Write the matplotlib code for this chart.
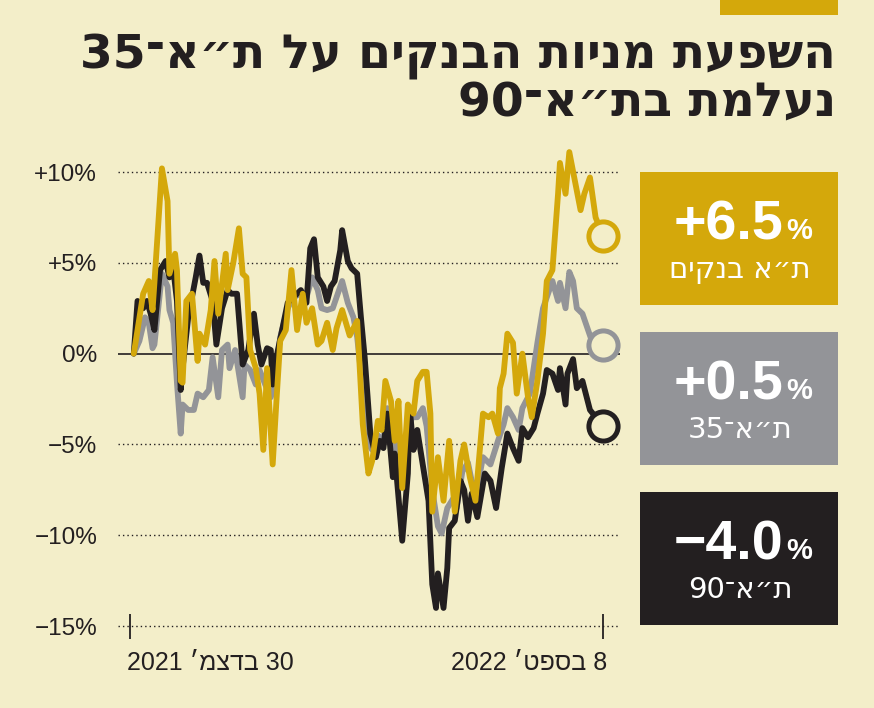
import re
import pandas as pd
import matplotlib
matplotlib.use("Agg")
import matplotlib.pyplot as plt
from matplotlib.patches import Rectangle

# colours
BG = "#f3eec9"
GOLD = "#d4a80b"
GRAY = "#939498"
BLACK = "#231f20"

# data: days since 30 Dec 2021, % change
gold_days = [2, 4, 7, 10, 12, 13, 17, 20, 21, 24, 25, 27, 28, 30, 33, 36, 37, 40, 43, 45,
             47, 51, 52, 55, 58, 60, 62, 64, 67, 69, 71, 73, 76, 78, 80, 83, 86, 89, 92, 94,
             97, 100, 102, 105, 108, 110, 113, 117, 121, 124, 127, 129, 132, 134, 136, 139,
             141, 143, 145, 148, 151, 153, 156, 158, 160, 161, 164, 167, 170, 173, 176, 178,
             181, 184, 188, 191, 193, 196, 197, 199, 201, 204, 206, 209, 212, 214, 217, 220,
             222, 225, 228, 229, 232, 234, 237, 240, 242, 245, 248, 252]
gold_vals = [0, 1.3, 3.3, 4.0, 2.4, 3.9, 10.2, 8.4, 4.4, 5.5, 4.6, -1.5, -1.6, 2.9, 3.3, -0.4,
             1.1, 0.5, 2.4, 5.1, 2.2, 5.5, 3.5, 5.0, 6.9, 4.4, 4.2, 0.2, -0.8, -2.2, -5.3, -0.8,
             -6.1, -2.6, 0.7, 1.3, 4.6, 1.3, 3.3, 1.7, 2.5, 0.5, 0.7, 1.7, 0.2, 1.4, 2.4, 1.0,
             1.8, -3.9, -6.6, -5.9, -3.7, -4.2, -1.5, -2.6, -4.8, -2.6, -7.4, -2.8, -3.3, -1.5,
             -1.0, -1.0, -3.3, -8.7, -5.7, -8.1, -4.8, -8.7, -5.9, -5.0, -6.8, -8.1, -3.3, -3.5,
             -3.3, -4.4, -1.9, -1.1, 1.1, 0.6, -2.2, 0.0, -2.4, -3.5, -1.5, 1.1, 4.0, 4.6, 8.8,
             10.5, 8.8, 11.1, 9.5, 7.9, 8.8, 9.7, 7.5, 6.5]

gray_days = [2, 5, 8, 10, 12, 13, 17, 20, 21, 23, 25, 27, 28, 31, 34, 36, 39, 42, 44, 47,
             49, 52, 53, 56, 60, 61, 64, 67, 69, 72, 75, 77, 80, 84, 87, 91, 94, 97, 100, 102,
             105, 108, 110, 113, 116, 119, 121, 124, 127, 129, 132, 135, 137, 140, 142, 145,
             148, 150, 153, 156, 158, 161, 164, 166, 169, 172, 174, 177, 180, 182, 185, 188,
             192, 196, 199, 201, 204, 207, 209, 213, 217, 220, 222, 225, 228, 229, 232, 234,
             236, 238, 241, 244, 249, 252]
gray_vals = [0, 0.7, 2.0, 1.7, 0.3, 0.5, 4.4, 3.7, 2.4, 1.7, -1.6, -4.4, -2.8, -3.1, -3.1,
             -2.2, -2.4, -2.0, -0.2, -2.4, 0.2, 0.5, -0.8, 0.2, -2.4, -0.6, -0.9, -1.7, -0.9,
             -1.7, -2.4, -1.5, 0.9, 2.5, 3.1, 3.3, 3.1, 4.2, 3.5, 2.5, 2.4, 2.5, 3.1, 4.0, 2.8,
             2.0, 0.9, -2.0, -5.0, -5.3, -4.5, -4.8, -3.0, -5.5, -4.5, -7.0, -5.0, -3.5, -3.5,
             -3.0, -4.0, -7.5, -9.5, -9.9, -8.5, -8.0, -8.5, -6.5, -6.0, -7.0, -7.4, -5.7, -6.1,
             -4.8, -3.9, -3.0, -3.5, -4.2, -3.0, -2.2, 0.6, 2.5, 3.1, 4.0, 2.9, 3.9, 2.5, 4.5,
             4.0, 2.5, 2.2, 1.3, -0.2, 0.5]

black_days = [2, 4, 7, 9, 11, 13, 16, 19, 21, 23, 25, 27, 28, 31, 33, 35, 37, 39, 41, 44,
              46, 49, 52, 54, 57, 60, 63, 66, 68, 70, 73, 75, 76, 78, 81, 84, 87, 91, 94, 96,
              98, 100, 103, 105, 107, 109, 112, 113, 116, 118, 121, 123, 125, 128, 131, 133,
              135, 137, 140, 141, 145, 148, 149, 151, 153, 155, 157, 159, 161, 163, 164, 167,
              169, 170, 173, 176, 178, 180, 182, 185, 189, 192, 195, 198, 201, 204, 207, 209,
              212, 215, 217, 220, 222, 225, 228, 229, 232, 233, 236, 238, 241, 245, 252]
black_vals = [0, 2.9, 2.5, 2.9, 2.2, 1.3, 4.6, 5.1, 4.2, 4.7, 2.9, -2.0, -0.8, 2.0, 3.1, 4.2,
              5.4, 3.9, 3.9, 2.9, 0.5, 2.5, 3.5, 3.3, 3.3, -0.6, 0.2, 2.2, 0.5, -0.6, 0.3, 0.2,
              -1.7, -0.2, 1.3, 2.8, 3.1, 3.5, 2.8, 5.8, 6.3, 4.2, 3.7, 2.9, 3.7, 4.0, 5.7, 6.8,
              5.1, 4.7, 4.4, 2.0, -0.2, -4.4, -5.7, -4.8, -5.2, -3.3, -6.8, -5.5, -10.3, -6.6,
              -3.0, -5.3, -4.2, -5.5, -6.8, -8.1, -12.7, -14.0, -12.1, -14.0, -11.8, -9.6, -9.2,
              -7.0, -7.5, -9.2, -7.7, -9.0, -6.6, -7.0, -8.5, -6.3, -4.4, -5.2, -5.9, -4.1, -4.6,
              -4.1, -3.3, -2.2, -0.9, -1.1, -2.0, -0.8, -2.8, -1.1, -0.3, -1.9, -1.5, -3.1, -4.0]

series_names = ["ת״א בנקים", "ת״א־35", "ת״א־90"]
final_labels = ["+6.5", "+0.5", "−4.0"]
y_ticks = [10, 5, 0, -5, -10, -15]
y_tick_labels = ["+10%", "+5%", "0%", "−5%", "−10%", "−15%"]
x_tick_days = [0, 252]
x_tick_labels = ["30 בדצמ׳ 2021", "8 בספט׳ 2022"]
title = "השפעת מניות הבנקים על ת״א־35\nנעלמת בת״א־90"

start = pd.Timestamp("2021-12-30")


def rtl(s):
    # matplotlib has no bidi support: flip hebrew, keep number runs readable
    out = []
    for line in s.split("\n"):
        r = line[::-1]
        r = re.sub(r"[0-9.,%+\-−]+", lambda m: m.group(0)[::-1], r)
        out.append(r)
    return "\n".join(out)


def to_dates(days):
    return start + pd.to_timedelta(days, unit="D")


plt.rcParams["font.family"] = ["DejaVu Sans"]
NUM_FONT = ["Liberation Sans", "DejaVu Sans"]

W, H = 874, 708
fig = plt.figure(figsize=(W / 100, H / 100), dpi=100)
fig.patch.set_facecolor(BG)

ymin, ymax = -15.6, 12.0
ax = fig.add_axes([118 / W, (H - 637) / H, 502 / W, 501.3 / H])
ax.set_facecolor(BG)
ax.set_ylim(ymin, ymax)
ax.set_xlim(start - pd.Timedelta(days=6.4), start + pd.Timedelta(days=261))

# grid
for v in y_ticks:
    if v == 0:
        ax.axhline(v, color=BLACK, lw=1.2, zorder=1)
    else:
        ax.axhline(v, color=BLACK, lw=1.0, ls=(0, (1, 2.2)), zorder=1)

# lines, gray under black under gold
for days, vals, col, z in [(gray_days, gray_vals, GRAY, 2),
                           (black_days, black_vals, BLACK, 3),
                           (gold_days, gold_vals, GOLD, 4)]:
    d = to_dates(days)
    ax.plot(d, vals, color=col, lw=4.2, solid_joinstyle="round",
            solid_capstyle="round", zorder=z, clip_on=False)
    ax.plot(d[-1:], vals[-1:], "o", ms=21, mfc=BG, mec=col, mew=3.6,
            zorder=z + 0.5, clip_on=False)

for s in ax.spines.values():
    s.set_visible(False)
ax.spines["bottom"].set_position(("data", -15))

ax.set_yticks(y_ticks)
ax.set_yticklabels(y_tick_labels, fontsize=17.5, color=BLACK, family=NUM_FONT)
ax.tick_params(axis="y", length=0, pad=15)

ax.set_xticks(to_dates(x_tick_days))
ax.set_xticklabels([])
ax.tick_params(axis="x", direction="inout", length=18, width=1.3, color=BLACK)
for d, lab, ha, off in zip(x_tick_days, x_tick_labels, ["left", "right"], [-1.5, 2]):
    ax.text(start + pd.Timedelta(days=d + off), -15 - 25 / 18.16, rtl(lab),
            ha=ha, va="top", fontsize=18, color=BLACK, family=NUM_FONT,
            clip_on=False)

# title
fig.add_artist(Rectangle((720 / W, 1 - 15 / H), 118 / W, 15 / H,
                         transform=fig.transFigure, color=GOLD, lw=0))
fig.text(836 / W, 1 - 34 / H, rtl(title), ha="right", va="top", fontsize=34,
         fontweight="bold", color=BLACK, linespacing=1.02, multialignment="right")

# value boxes
box_tops = [172, 332, 492]
for name, val, col, top in zip(series_names, final_labels,
                               [GOLD, GRAY, BLACK], box_tops):
    fig.add_artist(Rectangle((640 / W, 1 - (top + 133) / H), 198 / W, 133 / H,
                             transform=fig.transFigure, color=col, lw=0))
    fig.text(783 / W, 1 - (top + 67) / H, val, ha="right", va="baseline",
             fontsize=40, fontweight="bold", color="white", family=NUM_FONT)
    fig.text(786 / W, 1 - (top + 67) / H, "%", ha="left", va="baseline",
             fontsize=21, fontweight="bold", color="white", family=NUM_FONT)
    fig.text(740 / W, 1 - (top + 106) / H, rtl(name), ha="center", va="baseline",
             fontsize=21, color="white")

fig.savefig("out.png", dpi=100, facecolor=BG)
